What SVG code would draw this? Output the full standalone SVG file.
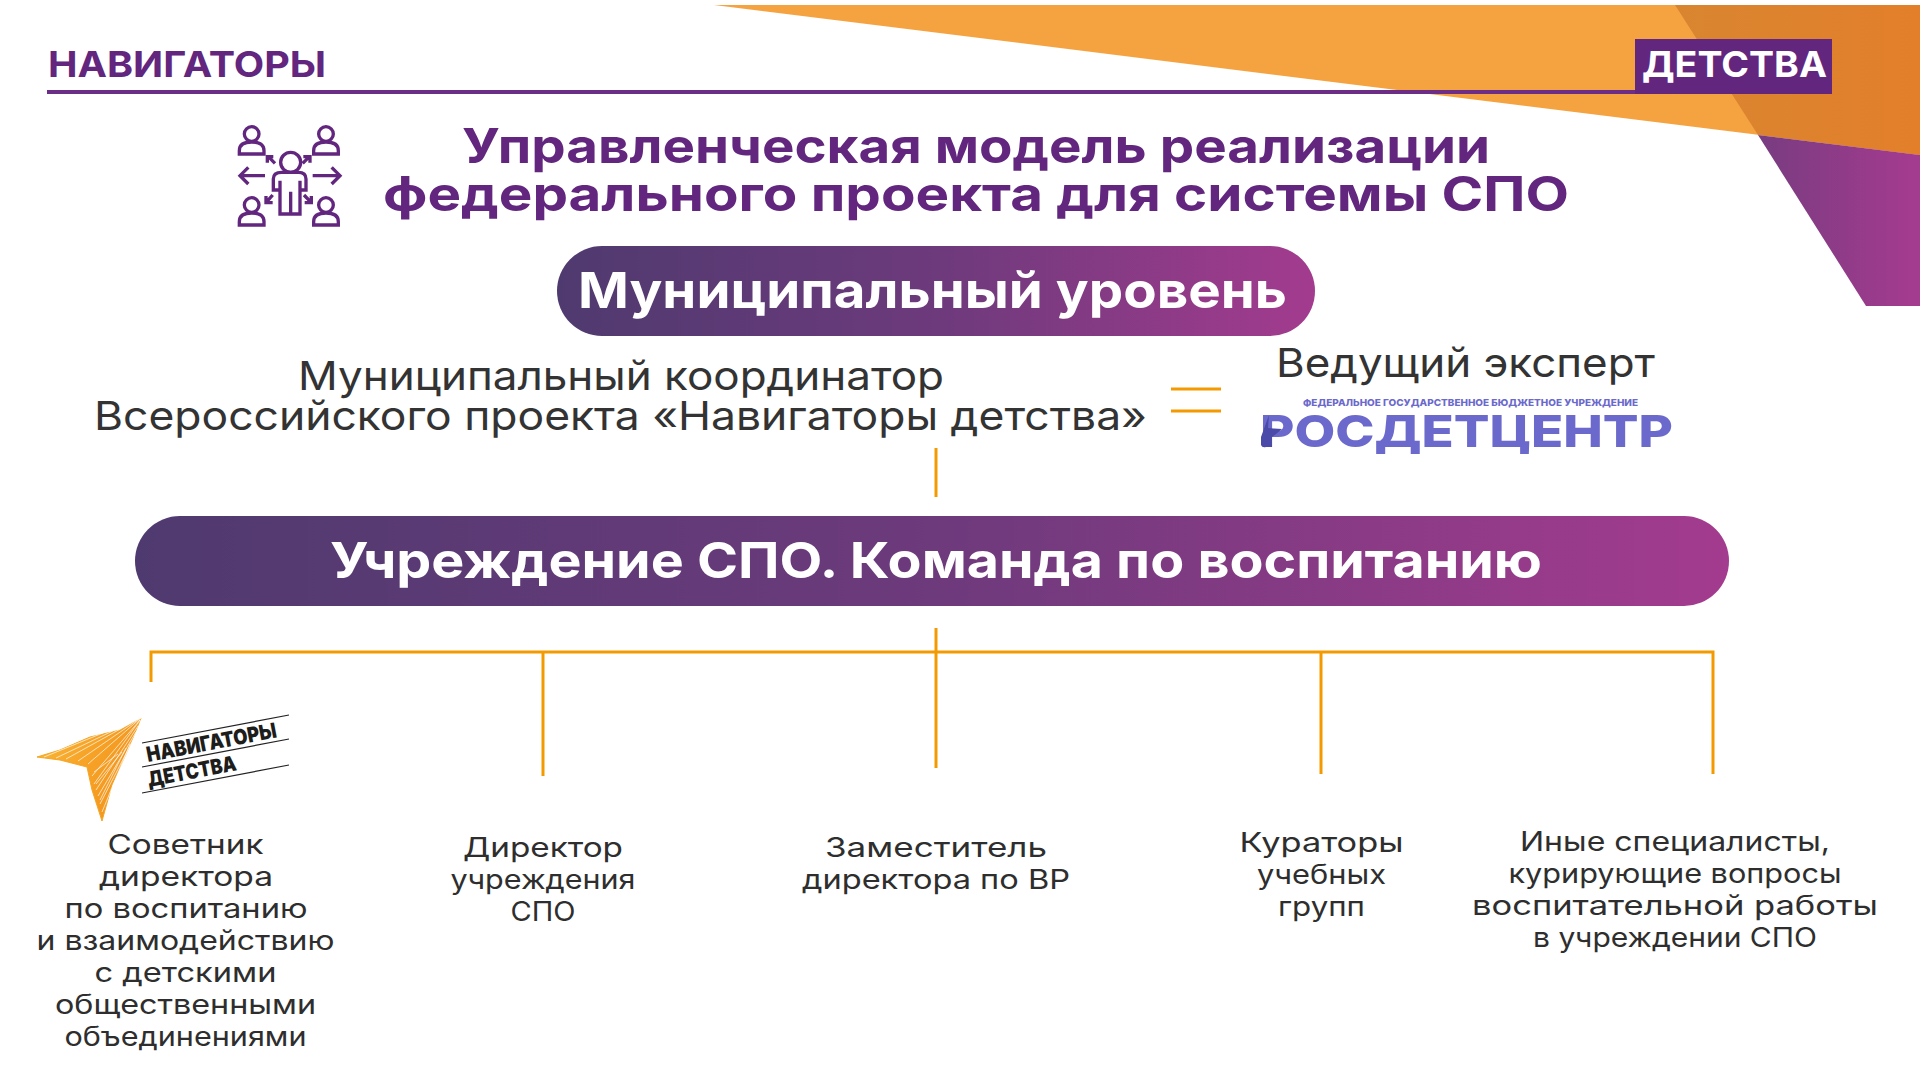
<svg xmlns="http://www.w3.org/2000/svg" width="1920" height="1083" viewBox="0 0 1920 1083">
<style>
text{font-family:"Inter","Noto Sans","Liberation Sans",sans-serif}
.h{font-weight:700;fill:#62267f;font-size:48px}
.p{font-weight:700;fill:#fff}
.b{font-weight:400;fill:#333;font-size:40px}
.s{font-weight:400;fill:#2e2e2e;font-size:27px;text-anchor:middle}
.c{fill:none;stroke:#f39a00;stroke-width:3}
.i{fill:none;stroke:#62267f;stroke-width:10}
.tl{fill:none;stroke:#222;stroke-width:1.2}
.nd{font-weight:900;fill:#1d1d1b;font-size:21px}
</style>
<defs>
<linearGradient id="pill" x1="0" x2="1" y1="0" y2="0"><stop offset="0" stop-color="#4f3a6f"/><stop offset=".5" stop-color="#6d3a7c"/><stop offset="1" stop-color="#a33b8e"/></linearGradient>
<linearGradient id="pur" gradientUnits="userSpaceOnUse" x1="1758" x2="1910" y1="0" y2="0"><stop offset="0" stop-color="#783c80"/><stop offset="1" stop-color="#a33b8e"/></linearGradient>
<linearGradient id="dor" gradientUnits="userSpaceOnUse" x1="1680" x2="1920" y1="0" y2="0"><stop offset="0" stop-color="#d98530"/><stop offset="1" stop-color="#e37f2b"/></linearGradient>
<linearGradient id="pl" gradientUnits="userSpaceOnUse" x1="40" y1="750" x2="140" y2="790"><stop offset="0" stop-color="#f9b233"/><stop offset="1" stop-color="#f39019"/></linearGradient>
</defs>
<rect width="1920" height="1083" fill="#fff"/>
<g id="background">
<polygon points="714,5 1920,5 1920,155" fill="#f5a341"/>
<polygon points="1675,5 1920,5 1920,155 1758,135" fill="url(#dor)"/>
<polygon points="1758,135 1920,155 1920,306 1866,306" fill="url(#pur)"/>
</g>
<g id="header">
<rect x="47" y="90" width="1600" height="4" fill="#6b2d85"/>
<text x="48" y="77" font-size="36" font-weight="700" fill="#62267f" textLength="278" lengthAdjust="spacingAndGlyphs">НАВИГАТОРЫ</text>
<rect x="1635" y="39" width="197" height="55" fill="#62267f"/>
<text x="1642" y="77" font-size="36" font-weight="700" fill="#fff" textLength="185" lengthAdjust="spacingAndGlyphs">ДЕТСТВА</text>
</g>
<g id="icon" transform="translate(220 110) scale(.3333)">
<circle class="i" cx="95" cy="72" r="22"/><path class="i" d="M58 132V122Q58 96 95 96Q132 96 132 122V132Z"/>
<circle class="i" cx="318" cy="72" r="22"/><path class="i" d="M281 132V122Q281 96 318 96Q355 96 355 122V132Z"/>
<circle class="i" cx="95" cy="285" r="22"/><path class="i" d="M58 345V335Q58 309 95 309Q132 309 132 335V345Z"/>
<circle class="i" cx="318" cy="285" r="22"/><path class="i" d="M281 345V335Q281 309 318 309Q355 309 355 335V345Z"/>
<circle class="i" cx="212" cy="157" r="30"/>
<path class="i" d="M160 240V207Q160 187 185 187H235Q258 187 258 207V240H240V312H180V240ZM212 245V312M180 212V240M240 212V240"/>
<path class="i" d="M135 197H60M85 172L60 197L85 222M278 197H358M335 172L360 197L335 222"/>
<path class="i" d="M165 160L145 140M142 158V140H160M248 160L268 140M250 140H270V158M158 255L138 278M138 258V278H158M252 255L274 278M274 258V278H254"/>
</g>
<g id="title">
<text class="h" x="462" y="163" textLength="1028" lengthAdjust="spacingAndGlyphs">Управленческая модель реализации</text>
<text class="h" x="383" y="211" textLength="1186" lengthAdjust="spacingAndGlyphs">федерального проекта для системы СПО</text>
</g>
<g id="connectors">
<path class="c" d="M936 448V497M936 628V652M151 682V652H1713V774M543 652V776M936 652V768M1321 652V774"/>
<path class="c" d="M1171 389H1221M1171 411H1221"/>
</g>
<g id="municipal-level">
<rect x="557" y="246" width="758" height="90" rx="45" fill="url(#pill)"/>
<text class="p" x="578" y="308" font-size="50" textLength="709" lengthAdjust="spacingAndGlyphs">Муниципальный уровень</text>
</g>
<g id="coordinator">
<text class="b" x="298" y="390" textLength="646" lengthAdjust="spacingAndGlyphs">Муниципальный координатор</text>
<text class="b" x="94" y="430" textLength="1053" lengthAdjust="spacingAndGlyphs">Всероссийского проекта «Навигаторы детства»</text>
</g>
<g id="expert">
<text class="b" x="1276" y="377" textLength="379" lengthAdjust="spacingAndGlyphs">Ведущий эксперт</text>
<text x="1303" y="406" font-size="9.5" font-weight="800" fill="#6b69cc" textLength="335" lengthAdjust="spacingAndGlyphs">ФЕДЕРАЛЬНОЕ ГОСУДАРСТВЕННОЕ БЮДЖЕТНОЕ УЧРЕЖДЕНИЕ</text>
<text x="1260" y="447" font-size="44" font-weight="800" fill="#6b69cc" textLength="413" lengthAdjust="spacingAndGlyphs">РОСДЕТЦЕНТР</text>
<path d="M1269 415L1261 437V445Q1262 448 1266 447H1272V437L1276 434L1282 429L1268 428Z" fill="#4c4aa8"/>
</g>
<g id="college-team">
<rect x="135" y="516" width="1594" height="90" rx="45" fill="url(#pill)"/>
<text class="p" x="330" y="578" font-size="50" textLength="1212" lengthAdjust="spacingAndGlyphs">Учреждение СПО. Команда по воспитанию</text>
</g>
<g id="navigators-logo">
<polygon points="141,718 120,730 90,737 60,750 37,757 60,760 87,767 92,790 102,821 112,785 130,745" fill="url(#pl)" stroke="#f5a623" stroke-width="1" stroke-linejoin="round"/>
<path d="M142 717L44 757M142 717L56 758M142 717L66 759M142 717L78 761M142 717L88 764M140 720L92 776M140 720L94 784M138 726L96 790M136 732L98 796M134 738L100 804M130 744L102 812M126 748L100 800M122 752L96 784M118 754L94 772" stroke="#fff" stroke-width=".9" fill="none" opacity=".75"/>
<path class="tl" d="M142 743L289 715M142 767L289 739M142 793L289 765"/>
<text class="nd" transform="translate(148 762) rotate(-10.8)" textLength="132" lengthAdjust="spacingAndGlyphs">НАВИГАТОРЫ</text>
<text class="nd" transform="translate(149 787) rotate(-10.8)" textLength="90" lengthAdjust="spacingAndGlyphs">ДЕТСТВА</text>
</g>
<g id="role-advisor">
<text class="s" x="185.500" y="854" textLength="156" lengthAdjust="spacingAndGlyphs">Советник</text>
<text class="s" x="186" y="886" textLength="174" lengthAdjust="spacingAndGlyphs">директора</text>
<text class="s" x="186" y="918" textLength="243" lengthAdjust="spacingAndGlyphs">по воспитанию</text>
<text class="s" x="185.500" y="950" textLength="298" lengthAdjust="spacingAndGlyphs">и взаимодействию</text>
<text class="s" x="185.500" y="982" textLength="182" lengthAdjust="spacingAndGlyphs">с детскими</text>
<text class="s" x="185.500" y="1014" textLength="261" lengthAdjust="spacingAndGlyphs">общественными</text>
<text class="s" x="185.500" y="1046" textLength="242" lengthAdjust="spacingAndGlyphs">объединениями</text>
</g>
<g id="role-director">
<text class="s" x="543" y="857" textLength="160" lengthAdjust="spacingAndGlyphs">Директор</text>
<text class="s" x="543" y="889" textLength="185" lengthAdjust="spacingAndGlyphs">учреждения</text>
<text class="s" x="543" y="921" textLength="65" lengthAdjust="spacingAndGlyphs">СПО</text>
</g>
<g id="role-deputy">
<text class="s" x="936" y="857" textLength="222" lengthAdjust="spacingAndGlyphs">Заместитель</text>
<text class="s" x="936" y="889" textLength="268" lengthAdjust="spacingAndGlyphs">директора по ВР</text>
</g>
<g id="role-curators">
<text class="s" x="1321.500" y="852" textLength="164" lengthAdjust="spacingAndGlyphs">Кураторы</text>
<text class="s" x="1321.500" y="884" textLength="129" lengthAdjust="spacingAndGlyphs">учебных</text>
<text class="s" x="1321.500" y="916" textLength="87" lengthAdjust="spacingAndGlyphs">групп</text>
</g>
<g id="role-others">
<text class="s" x="1675" y="851" textLength="310" lengthAdjust="spacingAndGlyphs">Иные специалисты,</text>
<text class="s" x="1675" y="883" textLength="333" lengthAdjust="spacingAndGlyphs">курирующие вопросы</text>
<text class="s" x="1675" y="915" textLength="406" lengthAdjust="spacingAndGlyphs">воспитательной работы</text>
<text class="s" x="1675" y="947" textLength="284" lengthAdjust="spacingAndGlyphs">в учреждении СПО</text>
</g>
</svg>
